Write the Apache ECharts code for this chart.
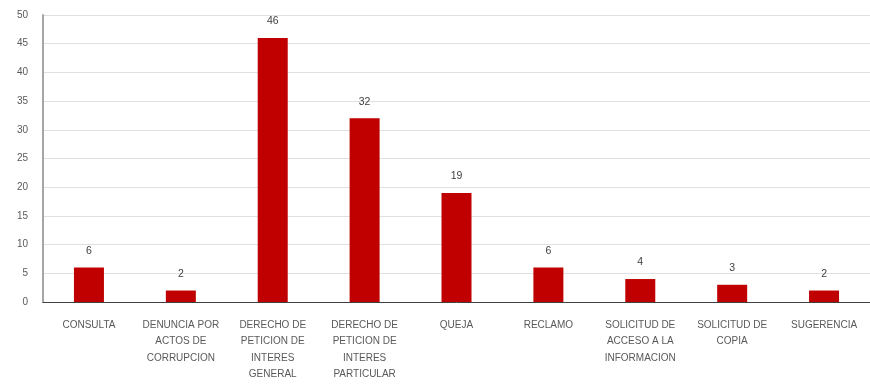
<!DOCTYPE html>
<html><head><meta charset="utf-8">
<script src="https://cdn.jsdelivr.net/npm/echarts@6/dist/echarts.min.js"></script>
<style>html,body{margin:0;padding:0;background:#fff}#c{width:870px;height:389px}</style>
</head><body><div id="c"></div>
<script>
const categories = ["CONSULTA","DENUNCIA POR\nACTOS DE\nCORRUPCION","DERECHO DE\nPETICION DE\nINTERES\nGENERAL","DERECHO DE\nPETICION DE\nINTERES\nPARTICULAR","QUEJA","RECLAMO","SOLICITUD DE\nACCESO A LA\nINFORMACION","SOLICITUD DE\nCOPIA","SUGERENCIA"];
const values = [6,2,46,32,19,6,4,3,2];
const yTicks = {min:0,max:50,interval:5};
const font = "'Liberation Sans',Arial,sans-serif";
const chart = echarts.init(document.getElementById('c'));
chart.setOption({
  animation:false,
  grid:{left:43,top:15,width:836,height:287,containLabel:false},
  xAxis:{type:'category',data:categories,
    axisLine:{lineStyle:{color:'#404040',width:1}},
    axisTick:{show:false},
    axisLabel:{interval:0,color:'#595959',fontFamily:font,fontSize:10,lineHeight:16.3,margin:15}},
  yAxis:{type:'value',min:yTicks.min,max:yTicks.max,interval:yTicks.interval,
    axisLine:{show:true,lineStyle:{color:'#a6a6a6',width:2}},
    axisTick:{show:false},
    splitLine:{lineStyle:{color:'#e0e0e0'}},
    axisLabel:{color:'#595959',fontFamily:font,fontSize:10,margin:15}},
  series:[{type:'bar',data:values,barWidth:30,
    itemStyle:{color:'#C00000'},
    label:{show:true,position:'top',color:'#404040',fontFamily:font,fontSize:10.5,distance:11}}]
});
</script></body></html>
